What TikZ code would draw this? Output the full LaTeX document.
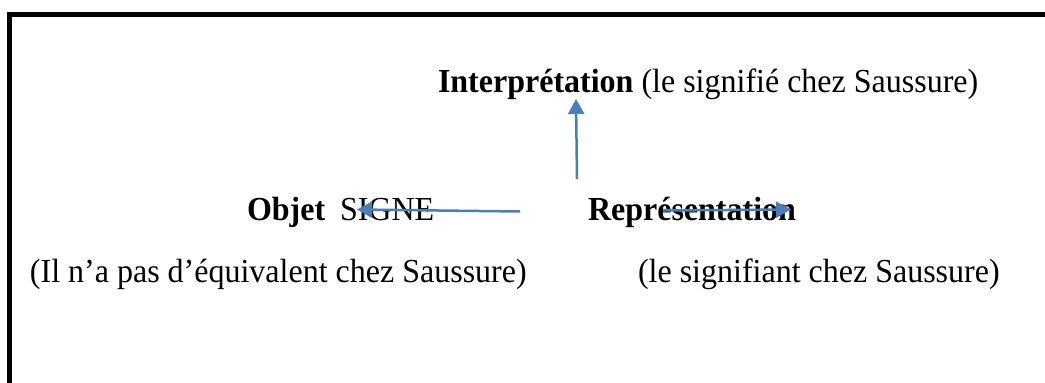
\documentclass[tikz,border=0pt]{standalone}
\usepackage{fontspec}
\setmainfont{Liberation Serif}
\usetikzlibrary{arrows.meta}
\definecolor{arrowblue}{HTML}{4A7EBB}
\tikzset{
  txt/.style={anchor=base west, inner sep=0pt, outer sep=0pt, font=\fontsize{32}{38}\selectfont, yscale=1.05},
  conn/.style={draw=arrowblue, line width=2.5pt, -{Triangle[width=16pt,length=15pt]}},
  frame/.style={draw=black, line width=5pt}
}
\begin{document}
\begin{tikzpicture}[x=1pt,y=1pt]
\useasboundingbox (0,0) rectangle (1045,-383);
\begin{scope}
\clip (0,0) rectangle (1045,-383);
\draw[frame] (9.5,-400) -- (9.5,-14.5) -- (1060,-14.5);
\end{scope}
% texts
\node[txt] (interp) at (438,-92) {\textbf{Interprétation} (le signifié chez Saussure)};
\node[txt] (obj) at (247,-220) {\textbf{Objet}};
\node[txt] (signe) at (340,-220) {SIGNE};
\node[txt] (rep) at (588,-220) {\textbf{Représentation}};
\node[txt] (left) at (30,-282) {(Il n’a pas d’équivalent chez Saussure)};
\node[txt] (right) at (638,-282) {(le signifiant chez Saussure)};
% arrow ends
\coordinate (vstart) at (577,-179);
\coordinate (vend) at (576,-99);
\coordinate (lstart) at (520,-211.5);
\coordinate (lend) at (357,-209.5);
\coordinate (rstart) at (663,-210.5);
\coordinate (rend) at (791,-209.5);
\draw[conn] (vstart) -- (vend);
\draw[conn] (lstart) -- (lend);
\draw[conn] (rstart) -- (rend);
\end{tikzpicture}
\end{document}
